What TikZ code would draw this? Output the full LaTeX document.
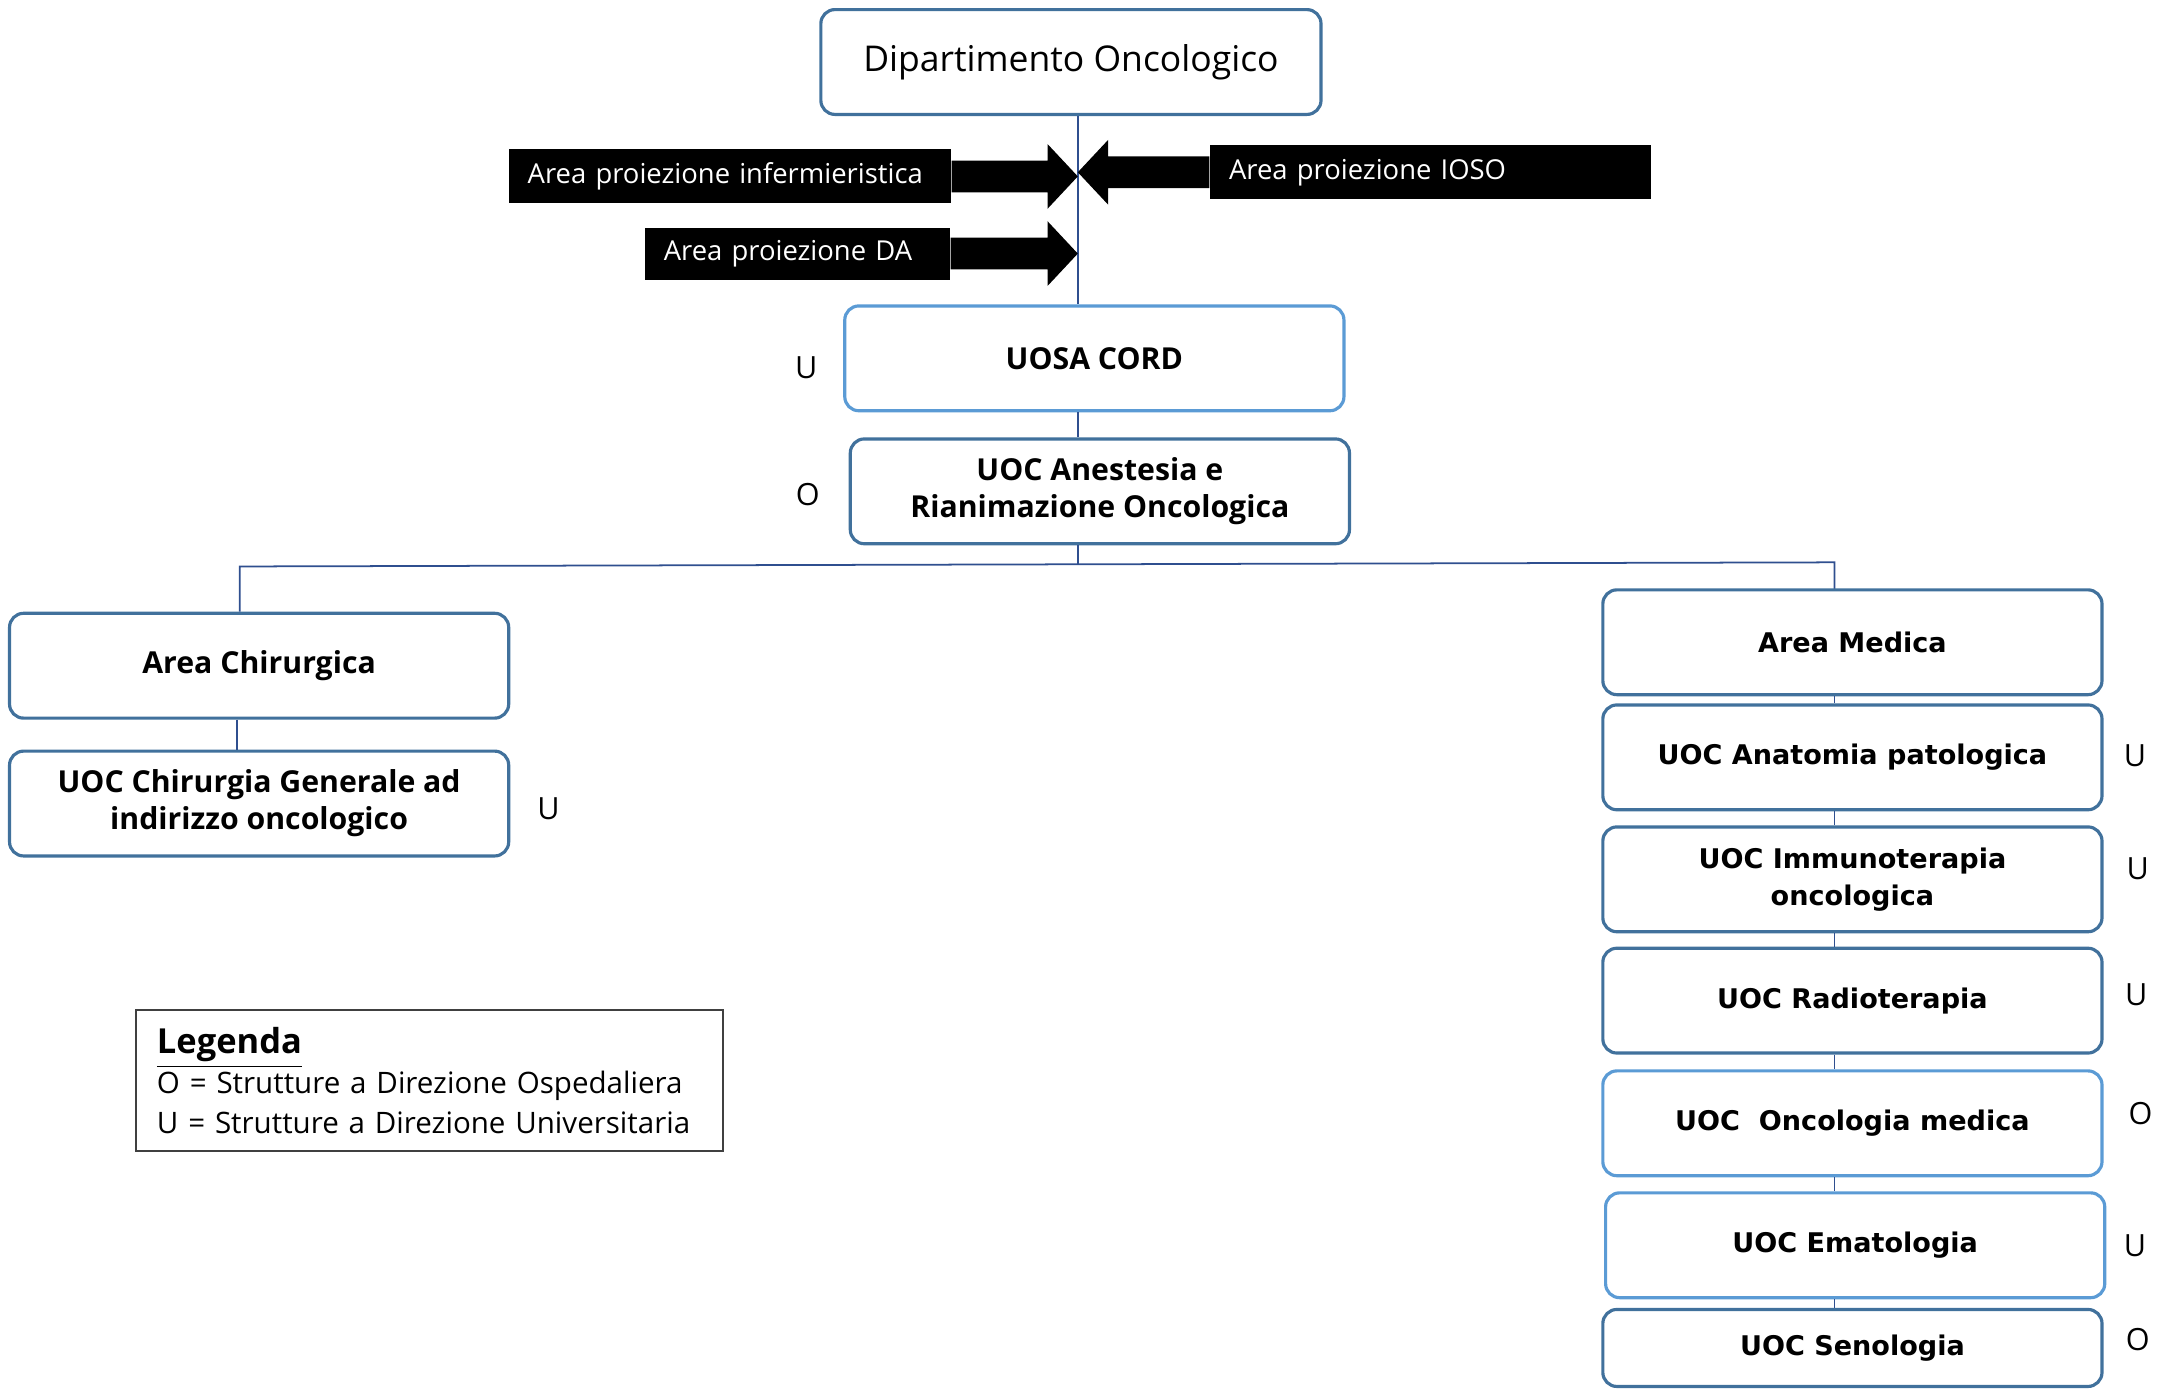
\documentclass[tikz,border=0pt]{standalone}
\usepackage{fontspec}
\setmainfont{Open Sans}
\newfontfamily\verdfont{DejaVu Sans}
\usetikzlibrary{calc,positioning}
\definecolor{borddark}{HTML}{41719C}
\definecolor{bordlight}{HTML}{5B9BD5}
\definecolor{linknavy}{HTML}{2F4F8F}

% black block arrow: #1 = start anchor, #2 = tip
\newcommand\projarrow[2]{%
\coordinate (hb) at ($(#2)!0.303cm!(#1)$);
\fill ($(#1)+(0,11.5)$) -- ($(hb)+(0,11.5)$) -- ($(hb)+(0,23.5)$) -- (#2)
  -- ($(hb)+(0,-23.5)$) -- ($(hb)+(0,-11.5)$) -- ($(#1)+(0,-11.5)$) -- cycle;
}

\begin{document}
\begin{tikzpicture}[x=0.013783cm, y=-0.013783cm]
\tikzstyle{unit}=[rectangle, rounded corners=4pt, draw=borddark, line width=0.9pt, fill=white,
  minimum width=4.99cm, minimum height=1.048cm, align=center, inner sep=1pt,
  font=\fontsize{8.6}{10.5}\selectfont\bfseries]
\tikzstyle{lunit}=[unit, draw=bordlight]
\tikzstyle{munit}=[unit, font=\verdfont\fontsize{7.7}{10.5}\selectfont\bfseries]
\tikzstyle{lmunit}=[munit, draw=bordlight]
\tikzstyle{proj}=[rectangle, fill=black, text=white, minimum height=0.54cm, inner xsep=0.19cm,
  align=left, font=\fontsize{7.8}{9}\selectfont]
\tikzstyle{tag}=[font=\fontsize{8.7}{10}\selectfont, inner sep=0pt]
\tikzstyle{conn}=[draw=linknavy, line width=0.5pt]

\useasboundingbox (0,0) rectangle (1565,1008.5);

% top
\node [unit, minimum width=5.0cm, font=\fontsize{10.1}{12}\selectfont] (dip) at (777,45) {Dipartimento Oncologico};
\node [lunit] (cord) at (794,260) {UOSA CORD};
\node [unit] (anest) at (798,356.5) {UOC Anestesia e\\Rianimazione Oncologica};
\node [tag] (tcord) at (585,267) {U};
\node [tag] (tanest) at (586,359) {O};

\coordinate (sp) at (782,0);
\coordinate (busL) at (174,411);
\coordinate (busR) at (1331,408);
\draw [conn] (dip.south -| sp) -- (cord.north -| sp);
\draw [conn] (cord.south -| sp) -- (anest.north -| sp);
\draw [conn] (anest.south -| sp) -- (782,410);

% projection arrows
\node [proj, text width=4.04cm] (inf) at (529.5,128) {Area proiezione infermieristica};
\node [proj, text width=4.03cm] (ioso) at (1038,125) {Area proiezione IOSO};
\node [proj, text width=2.67cm, minimum height=0.52cm] (da) at (578.5,184) {Area proiezione DA};
\coordinate (tinf) at (782,128);
\coordinate (tioso) at (782,125);
\coordinate (tda) at (782,184);
\projarrow{inf.east}{tinf}
\projarrow{ioso.west}{tioso}
\projarrow{da.east}{tda}

% surgical area
\node [unit] (chir) at (188,483) {Area Chirurgica};
\node [unit] (cgen) at (188,583) {UOC Chirurgia Generale ad\\indirizzo oncologico};
\node [tag] (tcgen) at (398,587) {U};
\draw [conn] (busL |- chir.north) -- (busL) -- (busR) -- (busR |- 0,428);
\draw [conn] (chir.south -| 172,0) -- (cgen.north -| 172,0);

% medical area
\node [munit] (med) at (1344,466) {Area Medica};
\node [munit] (anat) at (1344,549.5) {UOC Anatomia patologica};
\node [munit] (immu) at (1344,638) {UOC Immunoterapia\\oncologica};
\node [munit] (radio) at (1344,726) {UOC Radioterapia};
\node [lmunit] (onco) at (1344,815) {UOC~~Oncologia medica};
\node [lmunit] (emat) at (1346,903.5) {UOC Ematologia};
\node [munit, minimum height=0.77cm] (seno) at (1344,978) {UOC Senologia};
\node [tag] (tanat) at (1549,548) {U};
\node [tag] (timmu) at (1551,630) {U};
\node [tag] (tradio) at (1550,722) {U};
\node [tag] (tonco) at (1553,808) {O};
\node [tag] (temat) at (1549,904) {U};
\node [tag] (tseno) at (1551,972) {O};

\foreach \a/\b in {med/anat, anat/immu, immu/radio, radio/onco, onco/emat, emat/seno}
\draw [conn] (\a.south -| busR) -- (\b.north -| busR);

% legend
\node [draw=black!75, line width=0.5pt, anchor=north west, minimum width=5.87cm, minimum height=1.41cm,
  text width=5.45cm, inner xsep=0.21cm, align=left, font=\fontsize{8.4}{11.4}\selectfont] (leg) at (98,732)
  {{\fontsize{9.8}{11.4}\selectfont\underline{\textbf{Legenda}}}\\
   O = Strutture a Direzione Ospedaliera\\
   U = Strutture a Direzione Universitaria};

\end{tikzpicture}
\end{document}
